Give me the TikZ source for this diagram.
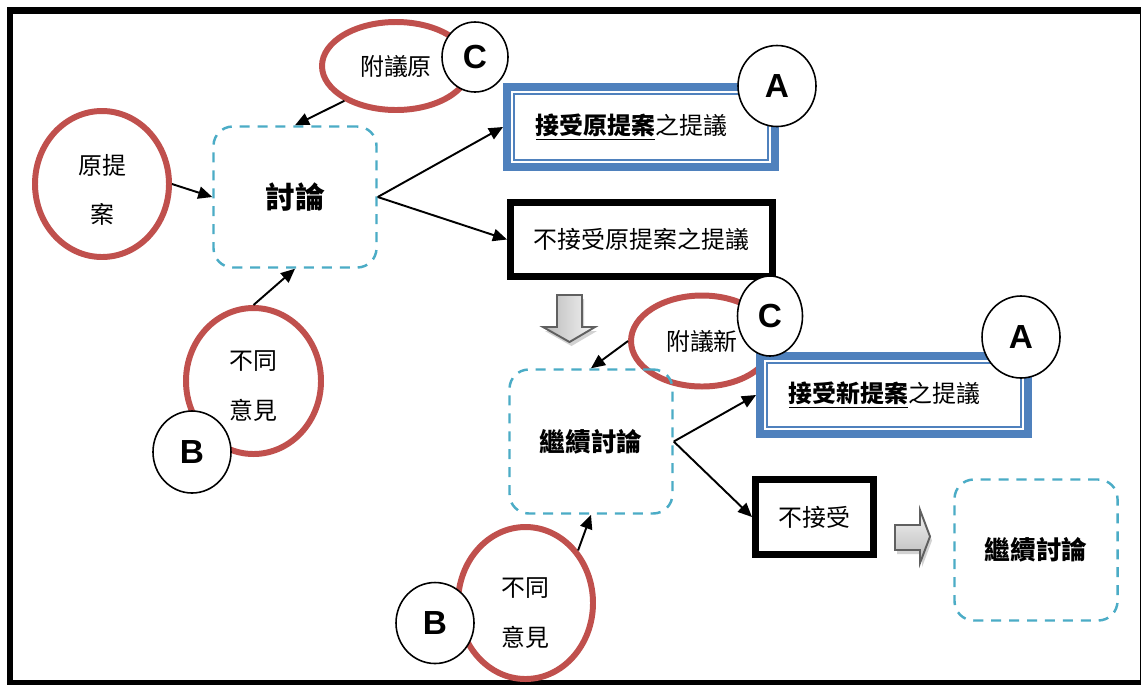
\documentclass[tikz,border=0pt]{standalone}
\usepackage{fontspec}
\setmainfont{Noto Sans CJK TC}
\newfontfamily\lat{Liberation Sans}
\usetikzlibrary{shapes.geometric,arrows.meta}
\definecolor{redc}{HTML}{C0504D}
\definecolor{bluec}{HTML}{4F81BD}
\definecolor{cyanc}{HTML}{4BACC6}
\def\pxu{0.02cm}
\begin{document}
\begin{tikzpicture}[x=0.02cm,y=-0.02cm,
  redell/.style={ellipse, draw=redc, line width=3.4pt, inner sep=0pt, align=center, font=\fontsize{13.6}{28}\selectfont},
  ctext/.style={inner sep=0pt, align=center, font=\fontsize{13.6}{28}\selectfont},
  letter/.style={ellipse, draw=black, line width=0.9pt, fill=white, inner sep=0pt, font=\lat\bfseries\fontsize{19}{19}\selectfont},
  dashbox/.style={rectangle, rounded corners=11pt, draw=cyanc, line width=1.4pt, dash pattern=on 5.7pt off 4.5pt, inner sep=0pt},
  blkbox/.style={rectangle, draw=black, line width=4pt, fill=white, inner sep=0pt, font=\fontsize{13.6}{16}\selectfont},
  bluebox/.style={rectangle, draw=bluec, line width=4.5pt, fill=white, inner sep=0pt, font=\fontsize{13.6}{16}\selectfont},
  innerblue/.style={draw=bluec, line width=1.1pt},
  conn/.style={-{Triangle[length=8pt,width=7pt]}, line width=1.1pt},
  grayarrow/.style={draw=gray!75!black, line width=1.1pt}
]
\useasboundingbox (0,0) rectangle (1141,684);
\clip (0,0) rectangle (1141,684);
\fill[white] (0,0) rectangle (1141,684);
% frame
\draw[line width=3.8pt] (10,10.5) rectangle (1143,683);

% red ellipses
\node[redell, minimum width=134*\pxu, minimum height=146*\pxu] (orig) at (102,184) {};
\node[ctext] (origt) at (102,190) {原提\\案};
\node[redell, minimum width=135*\pxu, minimum height=146*\pxu] (dy1) at (253.5,381) {};
\node[ctext] (dy1t) at (253,386) {不同\\意見};
\node[redell, minimum width=135*\pxu, minimum height=152*\pxu] (dy2) at (525.5,603) {};
\node[ctext] (dy2t) at (525,613) {不同\\意見};
\node[redell, minimum width=148*\pxu, minimum height=88*\pxu] (fyy) at (396,66) {附議原};
\node[redell, minimum width=142*\pxu, minimum height=91*\pxu] (fyx) at (702,341) {附議新};

% dashed boxes
\node[dashbox, minimum width=163*\pxu, minimum height=141*\pxu, font=\bfseries\fontsize{17}{20}\selectfont] (disc) at (295,197) {討論};
\node[dashbox, minimum width=163*\pxu, minimum height=144*\pxu, font=\bfseries\fontsize{14.6}{18}\selectfont] (cont1) at (591,441.5) {繼續討論};
\node[dashbox, minimum width=163*\pxu, minimum height=141*\pxu, font=\bfseries\fontsize{14.6}{18}\selectfont] (cont2) at (1036,550) {繼續討論};

% result boxes
\node[bluebox, minimum width=268*\pxu, minimum height=80*\pxu] (box1) at (641,127) {\underline{\textbf{接受原提案}}之提議\kern11pt};
\draw[innerblue] ([shift={(11,11)}]box1.north west) rectangle ([shift={(-11,-11)}]box1.south east);
\node[blkbox, minimum width=262*\pxu, minimum height=74*\pxu] (box2) at (641.5,239.5) {不接受原提案之提議};
\node[bluebox, minimum width=268*\pxu, minimum height=78*\pxu] (box3) at (894,395) {\underline{\textbf{接受新提案}}之提議\kern11pt};
\draw[innerblue] ([shift={(11,11)}]box3.north west) rectangle ([shift={(-11,-11)}]box3.south east);
\node[blkbox, minimum width=118*\pxu, minimum height=75*\pxu] (box4) at (814.5,517) {不接受};

% connectors
\draw[conn] (orig.east) -- (disc.west);
\draw[conn] (fyy.214) -- (disc.north);
\draw[conn] (dy1.north) -- (disc.south);
\draw[conn] (disc.east) -- (box1.west);
\draw[conn] (disc.east) -- (box2.west);
\draw[conn] (fyx.west) -- (cont1.north);
\draw[conn] (cont1.east) -- (box3.west);
\draw[conn] (cont1.east) -- (box4.west);
\draw[conn] (dy2.45) -- (cont1.south);

% gray block arrows
\fill[gray!35] (559,299) -- (584,299) -- (584,331) -- (597,331) -- (571.5,346) -- (545,331) -- (559,331) -- cycle;
\shade[left color=gray!55, right color=gray!8, grayarrow] (557,295) -- (582,295) -- (582,327) -- (595,327) -- (569.5,342) -- (543,327) -- (557,327) -- cycle;
\fill[gray!35] (897,529) -- (922,529) -- (922,514) -- (932,540.5) -- (922,567) -- (922,554) -- (897,554) -- cycle;
\shade[top color=gray!10, bottom color=gray!55, grayarrow] (895,525) -- (920,525) -- (920,510) -- (930,536.5) -- (920,563) -- (920,550) -- (895,550) -- cycle;

% letter circles
\node[letter, minimum width=66*\pxu, minimum height=70*\pxu] (c1) at (475,57) {C};
\node[letter, minimum width=78*\pxu, minimum height=81*\pxu] (a1) at (777,86) {A};
\node[letter, minimum width=65*\pxu, minimum height=80*\pxu] (c2) at (770,316) {C};
\node[letter, minimum width=78*\pxu, minimum height=82*\pxu] (a2) at (1021,337) {A};
\node[letter, minimum width=78*\pxu, minimum height=82*\pxu] (b1) at (192,452) {B};
\node[letter, minimum width=78*\pxu, minimum height=81*\pxu] (b2) at (435,623) {B};
\end{tikzpicture}
\end{document}
